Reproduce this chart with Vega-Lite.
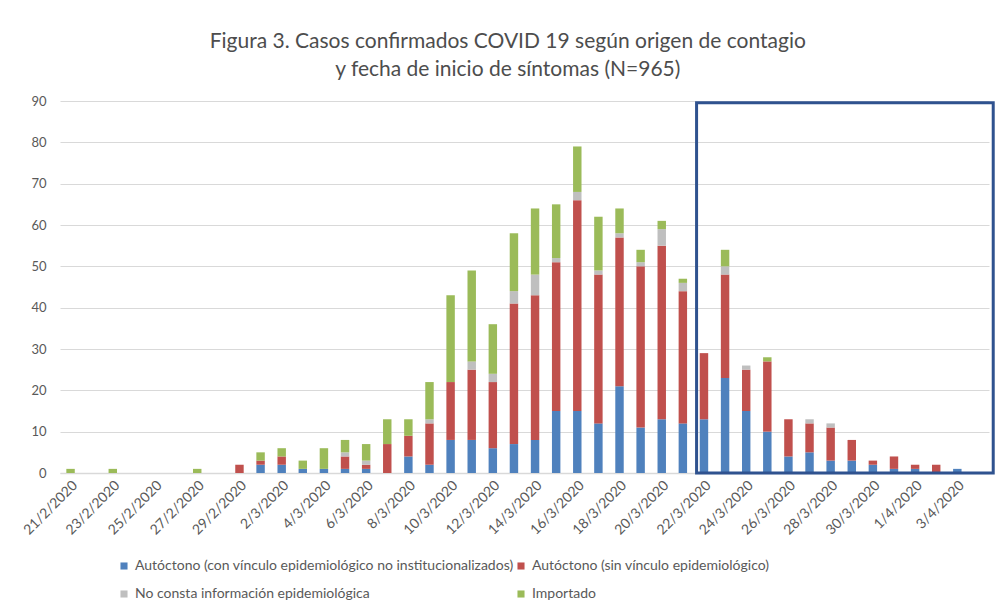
{
  "$schema": "https://vega.github.io/schema/vega-lite/v6.json",
  "autosize": "none",
  "width": 929,
  "height": 372,
  "padding": {"left": 60, "top": 101, "right": 14, "bottom": 139},
  "background": "white",
  "config": {
    "view": {"stroke": null},
    "font": "Lato",
    "axis": {"labelFont": "Lato", "labelColor": "#595959", "labelFontSize": 13},
    "legend": {"labelFont": "Lato"}
  },
  "title": {
    "text": ["Figura 3. Casos confirmados COVID 19 según origen de contagio", "y fecha de inicio de síntomas (N=965)"],
    "font": "Lato",
    "fontSize": 21,
    "fontWeight": "normal",
    "color": "#4D4D4D",
    "lineHeight": 28,
    "anchor": "middle",
    "frame": "bounds",
    "offset": 15
  },
  "layer": [
    {
      "data": {
        "values": [
          {"fecha": "21/2/2020", "con_vinculo": 0, "sin_vinculo": 0, "no_consta": 0, "importado": 1},
          {"fecha": "23/2/2020", "con_vinculo": 0, "sin_vinculo": 0, "no_consta": 0, "importado": 1},
          {"fecha": "27/2/2020", "con_vinculo": 0, "sin_vinculo": 0, "no_consta": 0, "importado": 1},
          {"fecha": "29/2/2020", "con_vinculo": 0, "sin_vinculo": 2, "no_consta": 0, "importado": 0},
          {"fecha": "1/3/2020", "con_vinculo": 2, "sin_vinculo": 1, "no_consta": 0, "importado": 2},
          {"fecha": "2/3/2020", "con_vinculo": 2, "sin_vinculo": 2, "no_consta": 0, "importado": 2},
          {"fecha": "3/3/2020", "con_vinculo": 1, "sin_vinculo": 0, "no_consta": 0, "importado": 2},
          {"fecha": "4/3/2020", "con_vinculo": 1, "sin_vinculo": 0, "no_consta": 0, "importado": 5},
          {"fecha": "5/3/2020", "con_vinculo": 1, "sin_vinculo": 3, "no_consta": 1, "importado": 3},
          {"fecha": "6/3/2020", "con_vinculo": 1, "sin_vinculo": 1, "no_consta": 1, "importado": 4},
          {"fecha": "7/3/2020", "con_vinculo": 0, "sin_vinculo": 7, "no_consta": 0, "importado": 6},
          {"fecha": "8/3/2020", "con_vinculo": 4, "sin_vinculo": 5, "no_consta": 0, "importado": 4},
          {"fecha": "9/3/2020", "con_vinculo": 2, "sin_vinculo": 10, "no_consta": 1, "importado": 9},
          {"fecha": "10/3/2020", "con_vinculo": 8, "sin_vinculo": 14, "no_consta": 0, "importado": 21},
          {"fecha": "11/3/2020", "con_vinculo": 8, "sin_vinculo": 17, "no_consta": 2, "importado": 22},
          {"fecha": "12/3/2020", "con_vinculo": 6, "sin_vinculo": 16, "no_consta": 2, "importado": 12},
          {"fecha": "13/3/2020", "con_vinculo": 7, "sin_vinculo": 34, "no_consta": 3, "importado": 14},
          {"fecha": "14/3/2020", "con_vinculo": 8, "sin_vinculo": 35, "no_consta": 5, "importado": 16},
          {"fecha": "15/3/2020", "con_vinculo": 15, "sin_vinculo": 36, "no_consta": 1, "importado": 13},
          {"fecha": "16/3/2020", "con_vinculo": 15, "sin_vinculo": 51, "no_consta": 2, "importado": 11},
          {"fecha": "17/3/2020", "con_vinculo": 12, "sin_vinculo": 36, "no_consta": 1, "importado": 13},
          {"fecha": "18/3/2020", "con_vinculo": 21, "sin_vinculo": 36, "no_consta": 1, "importado": 6},
          {"fecha": "19/3/2020", "con_vinculo": 11, "sin_vinculo": 39, "no_consta": 1, "importado": 3},
          {"fecha": "20/3/2020", "con_vinculo": 13, "sin_vinculo": 42, "no_consta": 4, "importado": 2},
          {"fecha": "21/3/2020", "con_vinculo": 12, "sin_vinculo": 32, "no_consta": 2, "importado": 1},
          {"fecha": "22/3/2020", "con_vinculo": 13, "sin_vinculo": 16, "no_consta": 0, "importado": 0},
          {"fecha": "23/3/2020", "con_vinculo": 23, "sin_vinculo": 25, "no_consta": 2, "importado": 4},
          {"fecha": "24/3/2020", "con_vinculo": 15, "sin_vinculo": 10, "no_consta": 1, "importado": 0},
          {"fecha": "25/3/2020", "con_vinculo": 10, "sin_vinculo": 17, "no_consta": 0, "importado": 1},
          {"fecha": "26/3/2020", "con_vinculo": 4, "sin_vinculo": 9, "no_consta": 0, "importado": 0},
          {"fecha": "27/3/2020", "con_vinculo": 5, "sin_vinculo": 7, "no_consta": 1, "importado": 0},
          {"fecha": "28/3/2020", "con_vinculo": 3, "sin_vinculo": 8, "no_consta": 1, "importado": 0},
          {"fecha": "29/3/2020", "con_vinculo": 3, "sin_vinculo": 5, "no_consta": 0, "importado": 0},
          {"fecha": "30/3/2020", "con_vinculo": 2, "sin_vinculo": 1, "no_consta": 0, "importado": 0},
          {"fecha": "31/3/2020", "con_vinculo": 1, "sin_vinculo": 3, "no_consta": 0, "importado": 0},
          {"fecha": "1/4/2020", "con_vinculo": 1, "sin_vinculo": 1, "no_consta": 0, "importado": 0},
          {"fecha": "2/4/2020", "con_vinculo": 0, "sin_vinculo": 2, "no_consta": 0, "importado": 0},
          {"fecha": "3/4/2020", "con_vinculo": 1, "sin_vinculo": 0, "no_consta": 0, "importado": 0}
        ]
      },
      "transform": [
        {"fold": ["con_vinculo", "sin_vinculo", "no_consta", "importado"], "as": ["origen", "casos"]},
        {
          "lookup": "origen",
          "from": {
            "data": {"values": [
              {"origen": "con_vinculo", "rango": 1},
              {"origen": "sin_vinculo", "rango": 2},
              {"origen": "no_consta", "rango": 3},
              {"origen": "importado", "rango": 4}
            ]},
            "key": "origen",
            "fields": ["rango"]
          }
        }
      ],
      "mark": {"type": "bar"},
      "encoding": {
        "x": {
          "field": "fecha",
          "type": "ordinal",
          "sort": null,
          "scale": {
            "domain": ["21/2/2020","22/2/2020","23/2/2020","24/2/2020","25/2/2020","26/2/2020","27/2/2020","28/2/2020","29/2/2020","1/3/2020","2/3/2020","3/3/2020","4/3/2020","5/3/2020","6/3/2020","7/3/2020","8/3/2020","9/3/2020","10/3/2020","11/3/2020","12/3/2020","13/3/2020","14/3/2020","15/3/2020","16/3/2020","17/3/2020","18/3/2020","19/3/2020","20/3/2020","21/3/2020","22/3/2020","23/3/2020","24/3/2020","25/3/2020","26/3/2020","27/3/2020","28/3/2020","29/3/2020","30/3/2020","31/3/2020","1/4/2020","2/4/2020","3/4/2020","4/4/2020"],
            "paddingInner": 0.6,
            "paddingOuter": 0.3
          },
          "axis": {
            "title": null,
            "values": ["21/2/2020","23/2/2020","25/2/2020","27/2/2020","29/2/2020","2/3/2020","4/3/2020","6/3/2020","8/3/2020","10/3/2020","12/3/2020","14/3/2020","16/3/2020","18/3/2020","20/3/2020","22/3/2020","24/3/2020","26/3/2020","28/3/2020","30/3/2020","1/4/2020","3/4/2020"],
            "labelAngle": -45,
            "labelAlign": "right",
            "labelBaseline": "top",
            "labelPadding": 5,
            "labelFontSize": 14,
            "ticks": false,
            "domainColor": "#D9D9D9",
            "domainWidth": 1.5,
            "grid": false
          }
        },
        "y": {
          "field": "casos",
          "type": "quantitative",
          "stack": "zero",
          "scale": {"domain": [0, 90], "nice": false},
          "axis": {
            "title": null,
            "values": [0,10,20,30,40,50,60,70,80,90],
            "domain": false,
            "ticks": false,
            "labelPadding": 14,
            "gridColor": "#D9D9D9",
            "gridWidth": 1
          }
        },
        "color": {
          "field": "origen",
          "type": "nominal",
          "scale": {
            "domain": ["con_vinculo", "sin_vinculo", "no_consta", "importado"],
            "range": ["#4F81BD", "#C0504D", "#BFBFBF", "#9BBB59"]
          },
          "legend": {
            "title": null,
            "orient": "none",
            "legendX": 57,
            "legendY": 458,
            "columns": 2,
            "columnPadding": 0,
            "rowPadding": 14,
            "padding": 0,
            "values": ["con_vinculo", "no_consta", "sin_vinculo", "importado"],
            "symbolType": "square",
            "symbolSize": 50,
            "symbolStrokeWidth": 0,
            "labelFontSize": 14,
            "labelColor": "#595959",
            "labelOffset": 4,
            "labelLimit": 0,
            "labelExpr": "{'con_vinculo': 'Autóctono (con vínculo epidemiológico no institucionalizados)', 'sin_vinculo': 'Autóctono (sin vínculo epidemiológico)', 'no_consta': 'No consta información epidemiológica', 'importado': 'Importado'}[datum.label]"
          }
        },
        "order": {"field": "rango", "type": "quantitative", "sort": "ascending"}
      }
    },
    {
      "data": {"values": [{"x0": 30.15, "x1": 44.2, "y0": 0, "y1": 89.6}]},
      "mark": {"type": "rect", "filled": false, "stroke": "#2F528F", "strokeWidth": 3, "clip": false},
      "encoding": {
        "x": {"field": "x0", "type": "quantitative", "scale": {"domain": [0, 44], "nice": false, "zero": false}, "axis": null},
        "x2": {"field": "x1"},
        "y": {"field": "y0", "type": "quantitative"},
        "y2": {"field": "y1"}
      }
    }
  ],
  "resolve": {"scale": {"x": "independent"}, "axis": {"x": "independent"}}
}
